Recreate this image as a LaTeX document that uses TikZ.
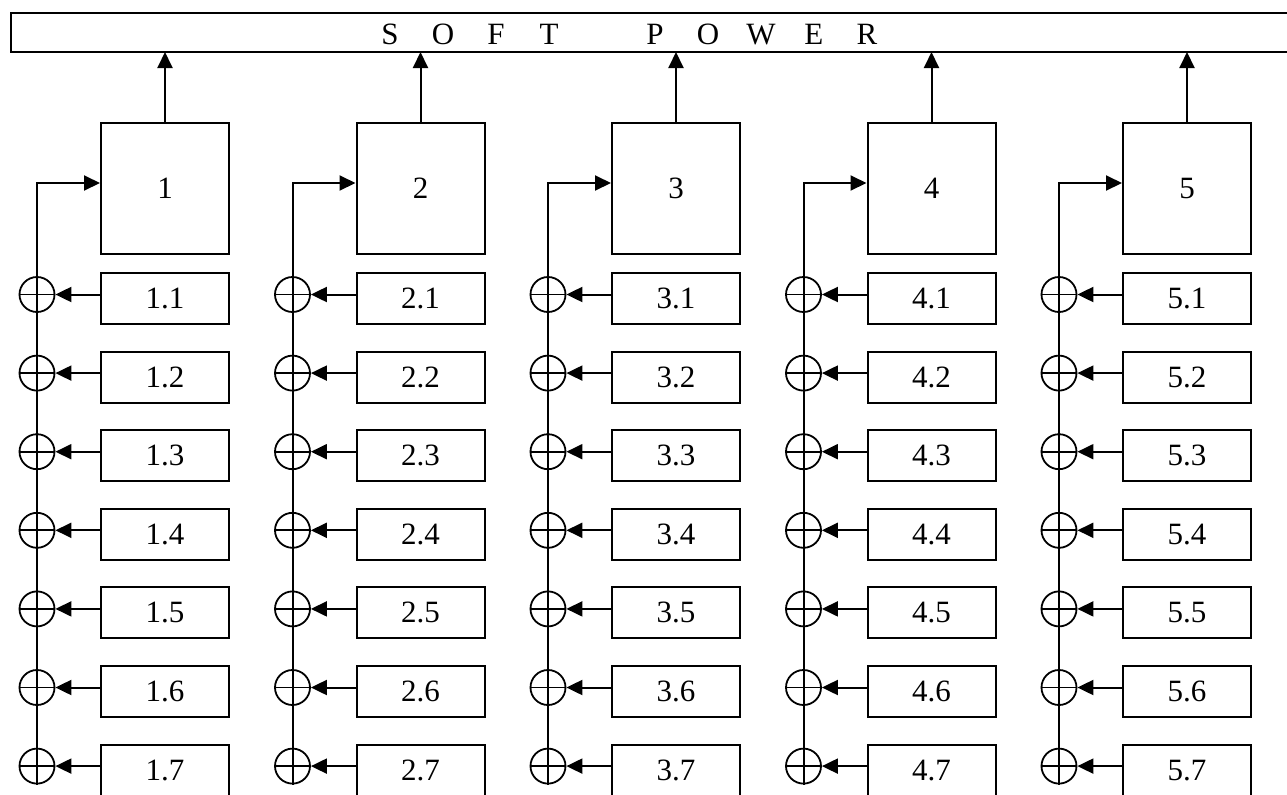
\documentclass[tikz,border=0pt]{standalone}
\usepackage{fontspec}
\setmainfont{Liberation Serif}
\usetikzlibrary{arrows.meta}
\newcommand{\spc}[1]{\makebox[26.5pt]{#1}}
\tikzset{
  box/.style={draw, line width=1pt, minimum width=64pt, minimum height=25.5pt, inner sep=0pt},
  bigbox/.style={box, minimum height=65.5pt},
  sumnode/.style={draw, circle, line width=0.9pt, minimum size=17.5pt, inner sep=0pt},
  link/.style={line width=1pt, -{Triangle[length=8pt,width=7.5pt]}},
}
\begin{document}
\begin{tikzpicture}[x=0.5pt, y=-0.5pt, font=\fontsize{15.5}{18}\selectfont]
	\clip (0,0) rectangle (1287,794);
	\draw[line width=1pt] (11,13) rectangle (1320,52);
	\node (power) at (628.5,34) {\spc{S}\spc{O}\spc{F}\spc{T}\spc{}\spc{P}\spc{O}\spc{W}\spc{E}\spc{R}};
	\coordinate (bar) at (0,52);
	\foreach \i in {1,...,5} {
		\pgfmathsetmacro{\xb}{165+255.5*(\i-1)}
		\pgfmathsetmacro{\xc}{37+255.5*(\i-1)}
		\node[bigbox] (B\i) at (\xb,188.5) {\i};
		\draw[link] (B\i.north) -- (B\i.north |- bar);
		\foreach \j in {1,...,7} {
			\pgfmathsetmacro{\yb}{298.5+78.6*(\j-1)}
			\node[box] (S\i-\j) at (\xb,\yb) {\i.\j};
			\node[sumnode] (C\i-\j) at (\xc,\yb-4) {};
			\draw[line width=0.9pt] (C\i-\j.north) -- (C\i-\j.south) (C\i-\j.west) -- (C\i-\j.east);
			\draw[link] (S\i-\j.west |- C\i-\j) -- (C\i-\j);
		}
		\draw[link] (C\i-7.south) |- ([yshift=2.75pt]B\i.west);
	}
\end{tikzpicture}
\end{document}
